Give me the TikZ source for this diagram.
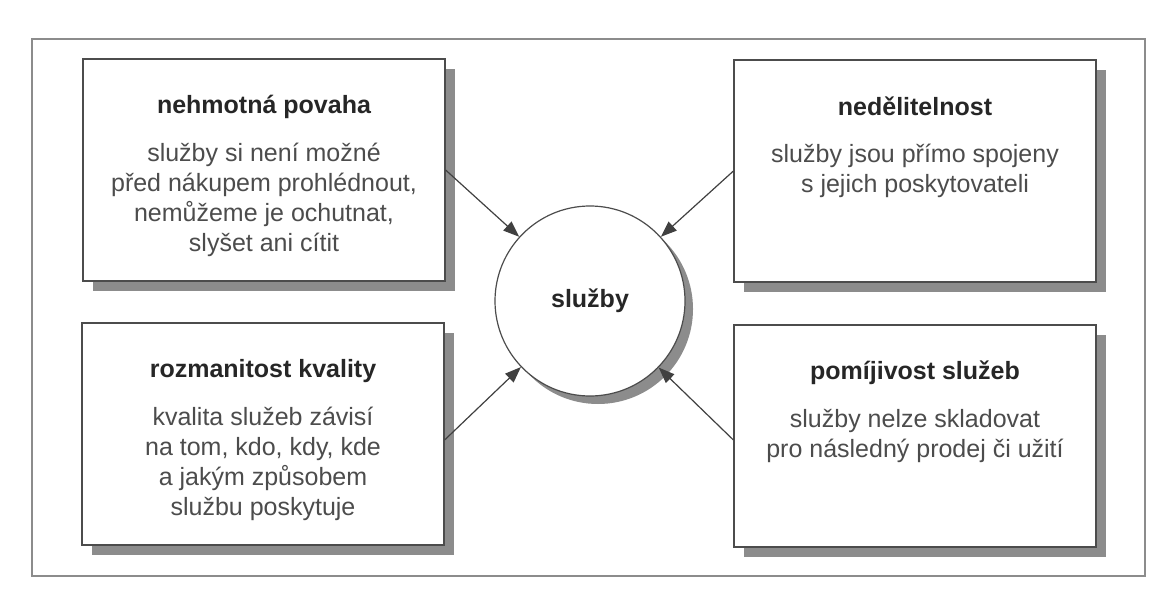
\documentclass[tikz,border=0pt]{standalone}
\usepackage{fontspec}
\setmainfont{Liberation Sans}
\usetikzlibrary{shadows,arrows.meta}
\tikzset{
  card/.style={draw=black!70, line width=0.6pt, fill=white, minimum width=181pt, minimum height=111pt,
    drop shadow={shadow xshift=5pt, shadow yshift=-5pt, fill=black!45, opacity=1}},
  hub/.style={circle, draw=black!70, line width=0.6pt, fill=white, minimum size=95pt, inner sep=0pt,
    font=\bfseries\fontsize{12.5}{15}\selectfont, text=black!85,
    drop shadow={shadow xshift=4pt, shadow yshift=-4pt, fill=black!45, opacity=1}},
  head/.style={anchor=base, inner sep=0pt, font=\bfseries\fontsize{12.5}{15}\selectfont, text=black!85},
  body/.style={anchor=base, inner sep=0pt, align=center, font=\fontsize{12.5}{15}\selectfont, text=black!70},
  feed/.style={draw=black!75, line width=0.6pt, -{Triangle[length=8pt,width=6pt]}},
}
\begin{document}
\begin{tikzpicture}[x=0.5pt,y=-0.5pt]
\useasboundingbox (0,0) rectangle (1170,598);
% Outer frame
\draw[black!45, line width=0.6pt] (32,39) rectangle (1145,576);
% Boxes
\node[card] (tl) at (264,170) {};
\node[card] (tr) at (915,171) {};
\node[card] (bl) at (263,434) {};
\node[card] (br) at (915,436) {};
% Titles
\node[head] (tlh) at ([yshift=-27.5pt]tl.north) {nehmotná povaha};
\node[head] (trh) at ([yshift=-28pt]tr.north) {nedělitelnost};
\node[head] (blh) at ([yshift=-27.5pt]bl.north) {rozmanitost kvality};
\node[head] (brh) at ([yshift=-27.5pt]br.north) {pomíjivost služeb};
% Descriptions (base = last line)
\node[body] (tlb) at ([yshift=-96.5pt]tl.north) {služby si není možné\\před nákupem prohlédnout,\\nemůžeme je ochutnat,\\slyšet ani cítit};
\node[body] (trb) at ([yshift=-66.5pt]tr.north) {služby jsou přímo spojeny\\s jejich poskytovateli};
\node[body] (blb) at ([yshift=-96.5pt]bl.north) {kvalita služeb závisí\\na tom, kdo, kdy, kde\\a jakým způsobem\\službu poskytuje};
\node[body] (brb) at ([yshift=-66.5pt]br.north) {služby nelze skladovat\\pro následný prodej či užití};
% Centre
\node[hub] (c) at (590,301) {služby};
% Arrows into the centre
\draw[feed] (tl.east) -- (c);
\draw[feed] (tr.west) -- (c);
\draw[feed] ([yshift=-3pt]bl.east) -- (c);
\draw[feed] ([yshift=-2pt]br.west) -- (c);
\end{tikzpicture}
\end{document}
